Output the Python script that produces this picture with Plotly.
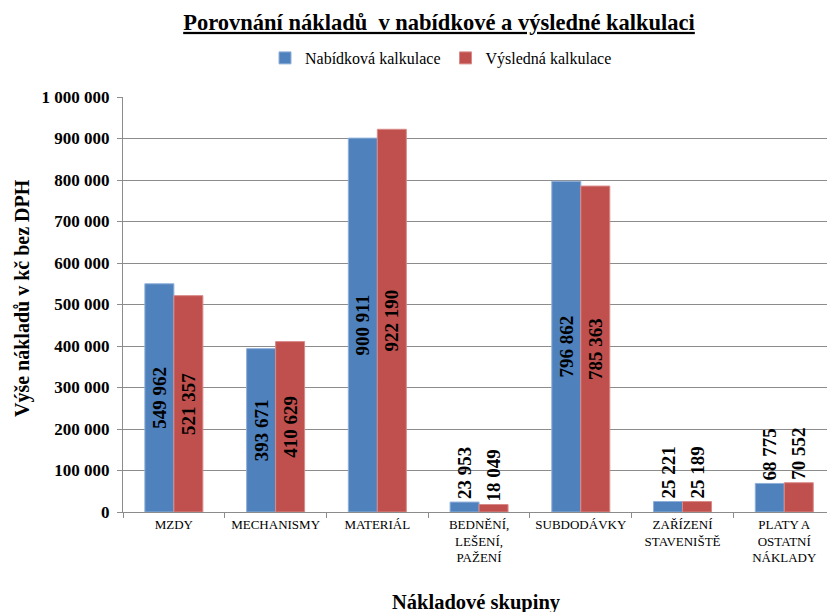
import plotly.graph_objects as go

# Cost groups (x categories) and the two calculations
categories = [
    "MZDY",
    "MECHANISMY",
    "MATERIÁL",
    "BEDNĚNÍ,<br>LEŠENÍ,<br>PAŽENÍ",
    "SUBDODÁVKY",
    "ZAŘÍZENÍ<br>STAVENIŠTĚ",
    "PLATY A<br>OSTATNÍ<br>NÁKLADY",
]
nabidkova = [549962, 393671, 900911, 23953, 796862, 25221, 68775]
vysledna = [521357, 410629, 922190, 18049, 785363, 25189, 70552]

series_names = ["Nabídková kalkulace", "Výsledná kalkulace"]
y_ticks = [0, 100000, 200000, 300000, 400000, 500000, 600000, 700000, 800000, 900000, 1000000]

SERIF = "Liberation Serif, Times New Roman, serif"
BLUE = "#4F81BD"
RED = "#C0504D"


def label_positions(values, limit=150000):
    return ["inside" if v >= limit else "outside" for v in values]


fig = go.Figure()
for name, vals, col, edge in [
    (series_names[0], nabidkova, BLUE, "#8fb0d9"),
    (series_names[1], vysledna, RED, "#d98a88"),
]:
    fig.add_trace(go.Bar(
        name=name,
        x=categories,
        y=vals,
        marker=dict(color=col, line=dict(color=edge, width=1)),
        texttemplate="%{y:,d}",
        textposition=label_positions(vals),
        insidetextanchor="middle",
        textangle=-90,
        constraintext="none",
        cliponaxis=False,
        textfont=dict(family=SERIF, size=19, color="black", weight="bold"),
    ))

fig.update_layout(
    width=827,
    height=612,
    margin=dict(l=123, r=0, t=97, b=100),
    paper_bgcolor="white",
    plot_bgcolor="white",
    separators=", ",
    barmode="group",
    bargap=0.43,
    bargroupgap=0,
    font=dict(family=SERIF, color="black"),
    title=dict(
        text="<u>Porovnání nákladů  v nabídkové a výsledné kalkulaci</u>",
        x=439 / 827, xanchor="center",
        y=1 - 22 / 612, yanchor="middle",
        font=dict(family=SERIF, size=22.5, color="black", weight="bold"),
    ),
    legend=dict(
        orientation="h",
        xref="container", yref="container",
        x=441 / 827, xanchor="center",
        y=1 - 58 / 612, yanchor="middle",
        font=dict(family=SERIF, size=16, color="black"),
        itemwidth=30,
        traceorder="normal",
    ),
    xaxis=dict(
        type="category",
        range=[-0.5, 6.42],
        showgrid=False,
        showline=True,
        linecolor="#8c8c8c",
        linewidth=1,
        ticks="outside",
        tickson="boundaries",
        ticklen=5,
        tickcolor="#8c8c8c",
        tickfont=dict(family=SERIF, size=13, color="black"),
    ),
    yaxis=dict(
        range=[0, 1000000],
        tickvals=y_ticks,
        tickformat=",d",
        showgrid=True,
        gridcolor="#8c8c8c",
        gridwidth=1,
        showline=True,
        linecolor="#8c8c8c",
        linewidth=1,
        ticks="outside",
        ticklen=5,
        tickcolor="#8c8c8c",
        ticklabelstandoff=4,
        zeroline=False,
        tickfont=dict(family=SERIF, size=17, color="black", weight="bold"),
    ),
    annotations=[
        dict(
            text="<b>Výše nákladů v kč bez DPH</b>",
            xref="paper", yref="paper",
            x=-101 / 704, y=(512 - 298) / 415,
            xanchor="center", yanchor="middle",
            textangle=-90, showarrow=False,
            font=dict(family=SERIF, size=20, color="black"),
        ),
        dict(
            text="<b>Nákladové skupiny</b>",
            xref="paper", yref="paper",
            x=(476 - 123) / 704, y=-(602 - 512) / 415,
            xanchor="center", yanchor="middle",
            showarrow=False,
            font=dict(family=SERIF, size=20.5, color="black"),
        ),
    ],
)

fig.write_html("out.html")
